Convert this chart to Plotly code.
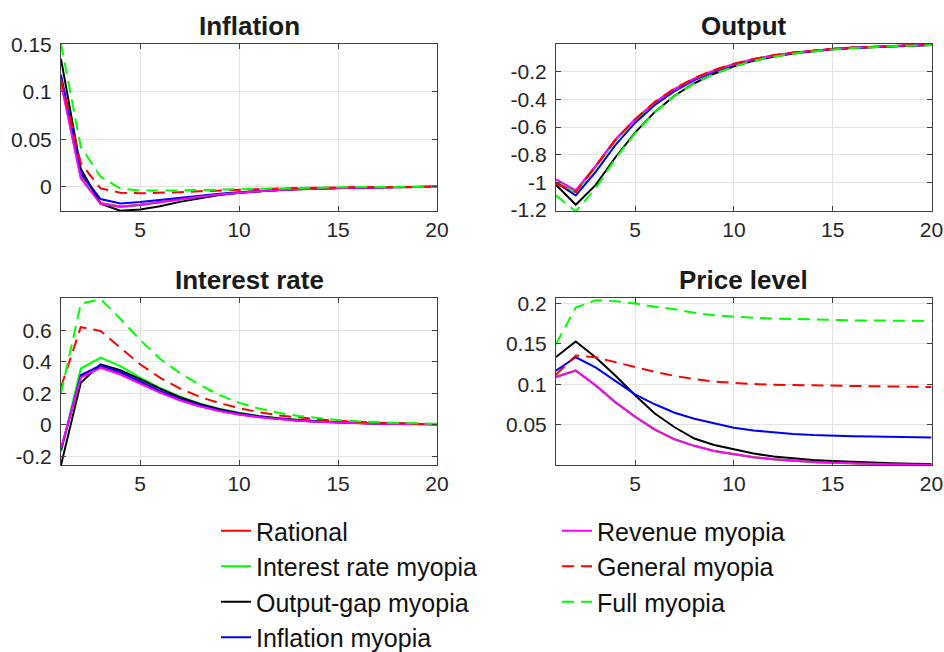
import plotly.graph_objects as go

# ---------------- data ----------------
periods = list(range(1, 21))

series_names = ["Rational", "Interest rate myopia", "Output-gap myopia", "Inflation myopia",
                "Revenue myopia", "General myopia", "Full myopia"]
series_colors = ["#ff0000", "#00ff00", "#000000", "#0000ff", "#ff00ff", "#ff0000", "#00ff00"]
series_dashes = ["solid", "solid", "solid", "solid", "solid", "12px,7px", "12px,7px"]
series_legend = ["legend", "legend", "legend", "legend", "legend2", "legend2", "legend2"]

panel_titles = ["Inflation", "Output", "Interest rate", "Price level"]

x_tickvals = [5, 10, 15, 20]
x_ticktext = ["5", "10", "15", "20"]

infl_tickvals = [0, 0.05, 0.1, 0.15]
infl_ticktext = ["0", "0.05", "0.1", "0.15"]
out_tickvals = [-1.2, -1.0, -0.8, -0.6, -0.4, -0.2]
out_ticktext = ["-1.2", "-1", "-0.8", "-0.6", "-0.4", "-0.2"]
rate_tickvals = [-0.2, 0, 0.2, 0.4, 0.6]
rate_ticktext = ["-0.2", "0", "0.2", "0.4", "0.6"]
price_tickvals = [0.05, 0.1, 0.15, 0.2]
price_ticktext = ["0.05", "0.1", "0.15", "0.2"]

# Inflation
infl_rational = [0.112, 0.011, -0.0172, -0.0208, -0.019, -0.016, -0.0131, -0.0104, -0.0082, -0.0063,
                 -0.0047, -0.0035, -0.0026, -0.0019, -0.0014, -0.001, -0.0007, -0.0005, -0.0003, -0.0002]
infl_interest = [0.110, 0.0095, -0.0176, -0.021, -0.0192, -0.0162, -0.0132, -0.0105, -0.0083, -0.0064,
                 -0.0048, -0.0036, -0.0026, -0.0019, -0.0014, -0.001, -0.0007, -0.0005, -0.0003, -0.0002]
infl_outgap = [0.1345, 0.019, -0.018, -0.0254, -0.024, -0.0205, -0.016, -0.012, -0.0088, -0.0063,
               -0.0047, -0.0035, -0.0025, -0.0018, -0.0012, -0.0008, -0.0005, -0.0003, -0.0002, -0.0001]
infl_inflation = [0.118, 0.014, -0.013, -0.0176, -0.016, -0.0138, -0.0115, -0.0093, -0.0074, -0.0058,
                  -0.0045, -0.0034, -0.0025, -0.0018, -0.0013, -0.0009, -0.0006, -0.0004, -0.0003, -0.0002]
infl_revenue = [0.109, 0.0088, -0.018, -0.0212, -0.0193, -0.0163, -0.0133, -0.0106, -0.0083, -0.0064,
                -0.0048, -0.0036, -0.0027, -0.002, -0.0014, -0.001, -0.0007, -0.0005, -0.0003, -0.0002]
infl_general = [0.113, 0.0246, -0.0018, -0.0063, -0.007, -0.0066, -0.0058, -0.0049, -0.004, -0.0032,
                -0.0025, -0.0019, -0.0014, -0.001, -0.0007, -0.0005, -0.0004, -0.0003, -0.0002, -0.0001]
infl_full = [0.1505, 0.042, 0.0105, -0.002, -0.004, -0.0043, -0.004, -0.0035, -0.003, -0.0025,
             -0.002, -0.0015, -0.0011, -0.0008, -0.0006, -0.0004, -0.0003, -0.0002, -0.0001, 0.0]

# Output
out_rational = [-1.0, -1.068, -0.89, -0.695, -0.548, -0.422, -0.325, -0.249, -0.19, -0.145,
                -0.109, -0.082, -0.062, -0.046, -0.035, -0.026, -0.019, -0.013, -0.009, -0.005]
out_interest = [-1.0, -1.07, -0.892, -0.698, -0.55, -0.424, -0.326, -0.25, -0.19, -0.145,
                -0.11, -0.082, -0.062, -0.047, -0.035, -0.026, -0.019, -0.013, -0.009, -0.005]
out_outgap = [-1.017, -1.162, -1.02, -0.82, -0.64, -0.49, -0.373, -0.283, -0.214, -0.161,
              -0.121, -0.091, -0.068, -0.051, -0.038, -0.028, -0.021, -0.015, -0.011, -0.007]
out_inflation = [-1.002, -1.094, -0.925, -0.73, -0.57, -0.44, -0.34, -0.261, -0.199, -0.151,
                 -0.114, -0.086, -0.065, -0.049, -0.037, -0.027, -0.02, -0.014, -0.01, -0.006]
out_revenue = [-0.978, -1.058, -0.88, -0.69, -0.543, -0.42, -0.325, -0.25, -0.192, -0.146,
               -0.11, -0.083, -0.062, -0.047, -0.035, -0.026, -0.019, -0.013, -0.009, -0.005]
out_general = [-1.01, -1.07, -0.885, -0.695, -0.545, -0.418, -0.32, -0.245, -0.187, -0.142,
               -0.107, -0.081, -0.061, -0.046, -0.034, -0.025, -0.018, -0.013, -0.008, -0.004]
out_full = [-1.094, -1.21, -1.045, -0.83, -0.645, -0.492, -0.374, -0.284, -0.215, -0.162,
            -0.122, -0.092, -0.069, -0.052, -0.039, -0.029, -0.021, -0.015, -0.011, -0.007]

# Interest rate
rate_rational = [-0.155, 0.305, 0.366, 0.324, 0.265, 0.207, 0.158, 0.119, 0.089, 0.066,
                 0.049, 0.036, 0.026, 0.019, 0.014, 0.01, 0.007, 0.005, 0.004, 0.003]
rate_interest = [-0.171, 0.358, 0.428, 0.373, 0.30, 0.235, 0.18, 0.136, 0.102, 0.076,
                 0.056, 0.041, 0.03, 0.022, 0.016, 0.012, 0.008, 0.006, 0.004, 0.003]
rate_outgap = [-0.256, 0.267, 0.385, 0.348, 0.29, 0.23, 0.176, 0.132, 0.099, 0.074,
               0.055, 0.04, 0.03, 0.022, 0.016, 0.011, 0.008, 0.006, 0.004, 0.003]
rate_inflation = [-0.16, 0.315, 0.379, 0.336, 0.276, 0.216, 0.165, 0.125, 0.093, 0.069,
                  0.051, 0.038, 0.028, 0.02, 0.015, 0.011, 0.008, 0.006, 0.004, 0.003]
rate_revenue = [-0.15, 0.30, 0.362, 0.32, 0.262, 0.205, 0.156, 0.118, 0.088, 0.065,
                0.048, 0.035, 0.026, 0.019, 0.014, 0.01, 0.007, 0.005, 0.004, 0.003]
rate_general = [0.24, 0.622, 0.597, 0.49, 0.385, 0.30, 0.232, 0.178, 0.138, 0.106,
                0.08, 0.06, 0.045, 0.034, 0.025, 0.018, 0.013, 0.009, 0.006, 0.004]
rate_full = [0.2, 0.77, 0.80, 0.675, 0.54, 0.42, 0.33, 0.255, 0.19, 0.14,
             0.103, 0.076, 0.056, 0.041, 0.03, 0.022, 0.016, 0.012, 0.009, 0.006]

# Price level
price_rational = [0.1095, 0.1172, 0.0989, 0.0781, 0.0601, 0.0441, 0.0321, 0.024, 0.0175, 0.0135,
                  0.01, 0.0075, 0.0055, 0.004, 0.003, 0.0022, 0.0016, 0.0012, 0.0009, 0.0007]
price_interest = [0.1093, 0.1171, 0.0989, 0.0781, 0.0601, 0.0441, 0.0321, 0.024, 0.0175, 0.0135,
                  0.01, 0.0075, 0.0055, 0.004, 0.003, 0.0022, 0.0016, 0.0012, 0.0009, 0.0007]
price_outgap = [0.134, 0.153, 0.1336, 0.111, 0.0865, 0.064, 0.047, 0.033, 0.025, 0.0197,
                0.0145, 0.0107, 0.0082, 0.0065, 0.0053, 0.0042, 0.0033, 0.0025, 0.002, 0.0015]
price_inflation = [0.117, 0.1336, 0.121, 0.104, 0.0877, 0.0754, 0.065, 0.0575, 0.0515, 0.0463,
                   0.043, 0.0405, 0.0388, 0.0375, 0.0365, 0.036, 0.0355, 0.035, 0.0347, 0.0342]
price_revenue = [0.109, 0.117, 0.0988, 0.078, 0.06, 0.044, 0.032, 0.024, 0.0175, 0.0135,
                 0.01, 0.0075, 0.0055, 0.004, 0.003, 0.0022, 0.0016, 0.0012, 0.0009, 0.0007]
price_general = [0.112, 0.1357, 0.1335, 0.1275, 0.1213, 0.1155, 0.1105, 0.1065, 0.1035, 0.1016,
                 0.1004, 0.0996, 0.099, 0.0987, 0.0984, 0.0981, 0.0978, 0.0975, 0.0971, 0.0968]
price_full = [0.15, 0.195, 0.204, 0.203, 0.2, 0.196, 0.193, 0.1885, 0.1855, 0.1838,
              0.1825, 0.1815, 0.1807, 0.18, 0.1795, 0.1792, 0.179, 0.1788, 0.1786, 0.1785]

panel_series = [
    [infl_rational, infl_interest, infl_outgap, infl_inflation, infl_revenue, infl_general, infl_full],
    [out_rational, out_interest, out_outgap, out_inflation, out_revenue, out_general, out_full],
    [rate_rational, rate_interest, rate_outgap, rate_inflation, rate_revenue, rate_general, rate_full],
    [price_rational, price_interest, price_outgap, price_inflation, price_revenue, price_general, price_full],
]

# ---------------- layout geometry (pixels) ----------------
W, H = 944, 652
FONT = "Liberation Sans, Arial, Helvetica, sans-serif"
panel_px = [  # left, right, top, bottom
    (61, 437, 43.7, 211),
    (556, 931.5, 43.7, 211),
    (61, 437, 298.3, 465),
    (556, 931.5, 298.3, 465),
]
y_ranges = [[-0.0256, 0.1505], [-1.207, 0.003], [-0.256, 0.805], [0.0003, 0.2065]]
y_ticks = [(infl_tickvals, infl_ticktext), (out_tickvals, out_ticktext),
           (rate_tickvals, rate_ticktext), (price_tickvals, price_ticktext)]

fig = go.Figure()

for p, series in enumerate(panel_series):
    sfx = "" if p == 0 else str(p + 1)
    for i, ys in enumerate(series):
        fig.add_trace(go.Scatter(
            x=periods, y=ys, mode="lines",
            name=series_names[i],
            line=dict(color=series_colors[i], width=2, dash=series_dashes[i]),
            xaxis="x" + sfx, yaxis="y" + sfx,
            showlegend=(p == 0), legend=series_legend[i],
            hoverinfo="skip",
        ))

common = dict(showline=True, linecolor="#404040", linewidth=1, mirror="ticks",
              ticks="inside", ticklen=5, tickcolor="#404040", tickwidth=1,
              showgrid=True, gridcolor="#e4e4e4", gridwidth=1, zeroline=False,
              ticklabeloverflow="allow",
              tickfont=dict(family=FONT, size=21, color="#262626"))

layout = dict(
    width=W, height=H, margin=dict(l=0, r=0, t=0, b=0, autoexpand=False),
    paper_bgcolor="white", plot_bgcolor="white",
    showlegend=True,
)
annotations = []
for p, (l, r, t, b) in enumerate(panel_px):
    sfx = "" if p == 0 else str(p + 1)
    layout["xaxis" + sfx] = dict(common, domain=[l / W, r / W], range=[1, 20],
                                 tickvals=x_tickvals, ticktext=x_ticktext,
                                 anchor="y" + sfx)
    layout["yaxis" + sfx] = dict(common, domain=[1 - b / H, 1 - t / H], range=y_ranges[p],
                                 tickvals=y_ticks[p][0], ticktext=y_ticks[p][1],
                                 ticklabelstandoff=4, anchor="x" + sfx)
    annotations.append(dict(
        text="<b>%s</b>" % panel_titles[p], xref="paper", yref="paper",
        x=(l + r) / 2 / W, y=1 - (t - 18) / H, xanchor="center", yanchor="middle",
        showarrow=False, font=dict(family=FONT, size=26, color="#1a1a1a"),
    ))
layout["annotations"] = annotations

legend_common = dict(bgcolor="rgba(0,0,0,0)", borderwidth=0, orientation="v",
                     xanchor="left", yanchor="top",
                     font=dict(family=FONT, size=25, color="#111111"))
layout["legend"] = dict(legend_common, x=216 / W, y=1 - 508 / H)
layout["legend2"] = dict(legend_common, x=557 / W, y=1 - 508 / H)

fig.update_layout(**layout)
fig.write_html("out.html")
